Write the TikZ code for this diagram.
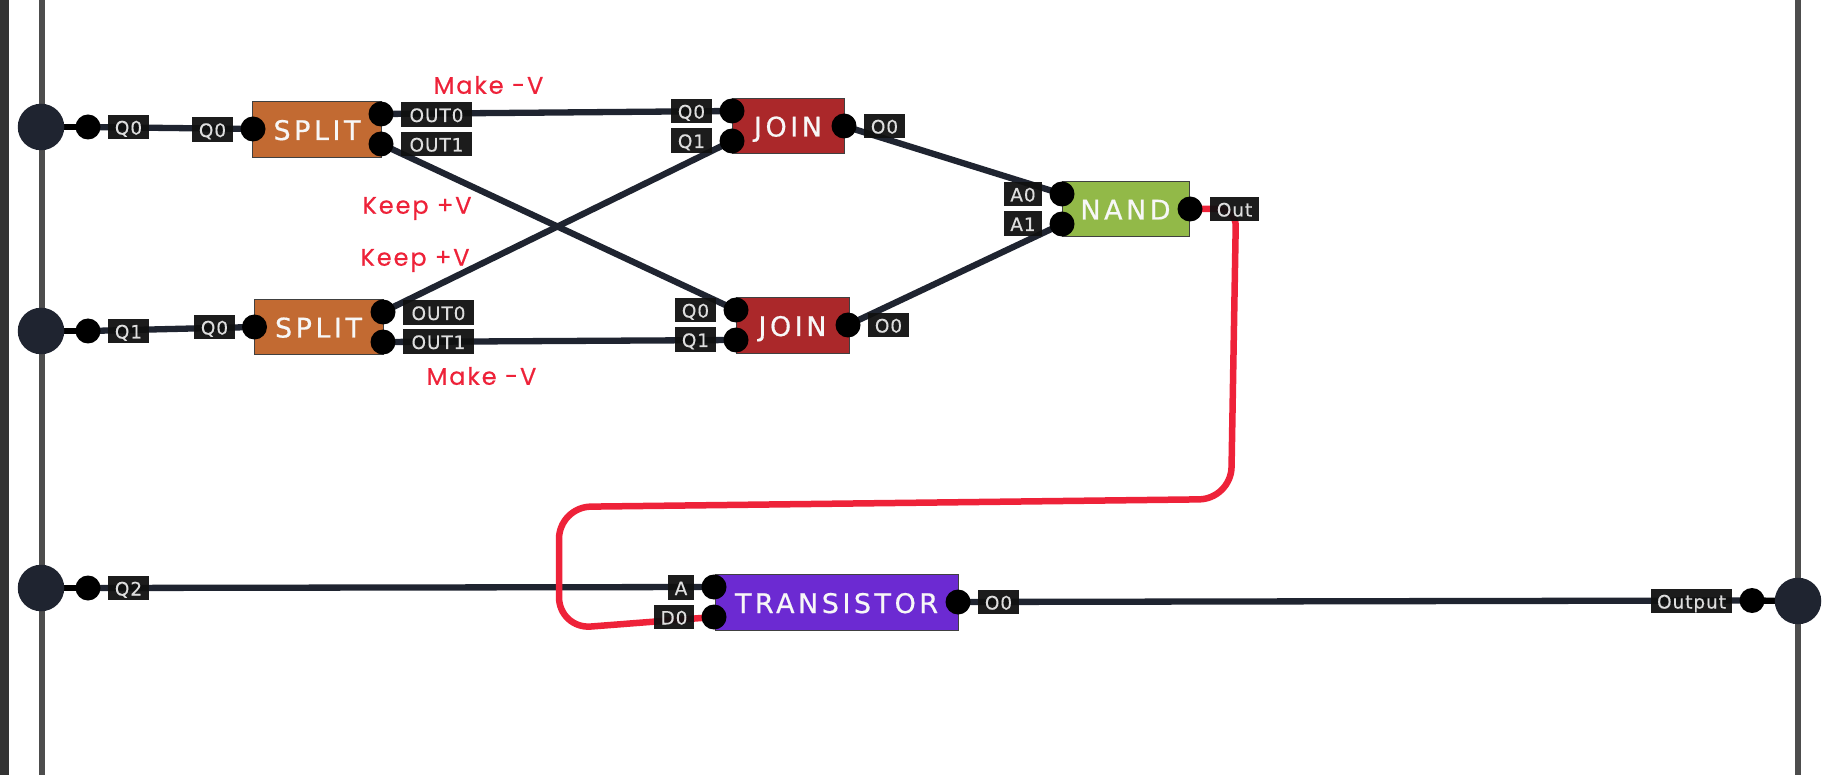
\documentclass[tikz,border=0pt]{standalone}
\usepackage{fontspec}
\setmainfont{DejaVu Sans}
\newfontfamily\plabel[LetterSpace=5,FakeBold=0.25]{DejaVu Sans}
\newfontfamily\pbox[LetterSpace=13,FakeBold=0.6]{DejaVu Sans}
\newfontfamily\pnote[LetterSpace=8,FakeBold=0.5]{Poppins}
\usetikzlibrary{backgrounds}
\definecolor{wirec}{HTML}{1F2430}
\definecolor{redc}{HTML}{EE2239}
\definecolor{railc}{HTML}{4D4D4D}
\definecolor{bandc}{HTML}{333333}
\definecolor{tagc}{HTML}{101010}
\definecolor{splitc}{HTML}{C26A32}
\definecolor{joinc}{HTML}{AB282A}
\definecolor{nandc}{HTML}{92B948}
\definecolor{transc}{HTML}{6C2AD2}
\tikzset{
  x=1pt,y=-1pt,
  wire/.style={draw=wirec,line width=6.3pt},
  stub/.style={draw=black,line width=6.3pt},
  hot/.style={draw=redc,line width=6.5pt},
  rail/.style={draw=railc,line width=5.5pt},
  term/.style={circle,fill=wirec,inner sep=0pt,minimum size=46.5pt},
  pin/.style={circle,fill=black,inner sep=0pt,minimum size=25pt},
  tag/.style={fill=tagc,fill opacity=.95,text opacity=1,text=white!87!black,inner sep=0pt,minimum height=24.5pt,text height=15pt,text depth=0pt,font=\plabel\fontsize{18.5}{19}\selectfont},
  chip/.style={draw=black!75,line width=.8pt,inner sep=0pt,text=white!97!black,text height=22pt,text depth=0pt,font=\pbox\fontsize{27}{28}\selectfont},
  note/.style={text=redc,inner sep=0pt,font=\pnote\fontsize{24}{26}\selectfont},
}
\newcommand{\chipnode}[7]{\node[chip,fill=#2,minimum width=#5pt,minimum height=#6pt] (#1) at (#3,#4) {#7};}
\begin{document}
\begin{tikzpicture}
\useasboundingbox (0,0) rectangle (1828,775);
\begin{pgfonlayer}{background}
\fill[white] (0,0) rectangle (1828,775);
\fill[bandc] (0,0) rectangle (9,775);
\draw[rail] (42,0) -- (42,775);
\draw[rail] (1798,0) -- (1798,775);
\end{pgfonlayer}

% chips
\chipnode{s1}{splitc}{317}{129}{129}{56}{SPLIT}
\chipnode{s2}{splitc}{318.5}{326.5}{129}{55}{SPLIT}
\chipnode{j1}{joinc}{788}{125.5}{112}{55}{JOIN}
\chipnode{j2}{joinc}{792.5}{325}{113}{56}{JOIN}
\chipnode{nd}{nandc}{1125.5}{208.5}{127}{55}{NAND}
\chipnode{tr}{transc}{836.5}{602}{243}{56}{TRANSISTOR}

% terminals
\node[term] (t0) at (41,127) {};
\node[term] (t1) at (41,331) {};
\node[term] (t2) at (41,588) {};
\node[term] (t3) at (1798,601) {};

% pins
\node[pin] (p0) at (88,127) {};
\node[pin] (p1) at (88,331) {};
\node[pin] (p2) at (88,588) {};
\node[pin] (p3) at (1752,600.5) {};
\node[pin] (s1i) at (253,129) {};
\node[pin] (s1a) at (381,114) {};
\node[pin] (s1b) at (381,144) {};
\node[pin] (s2i) at (254.5,327) {};
\node[pin] (s2a) at (383,312) {};
\node[pin] (s2b) at (383,342) {};
\node[pin] (j1a) at (732,111) {};
\node[pin] (j1b) at (732,141) {};
\node[pin] (j1o) at (844,126) {};
\node[pin] (j2a) at (736,310) {};
\node[pin] (j2b) at (736,340) {};
\node[pin] (j2o) at (848,325) {};
\node[pin] (nda) at (1062,194) {};
\node[pin] (ndb) at (1062,224) {};
\node[pin] (ndo) at (1190,209) {};
\node[pin] (tra) at (714,587) {};
\node[pin] (trb) at (714,617) {};
\node[pin] (tro) at (958,602) {};

% tags
\node[tag,minimum width=41pt] (l0) at (128.5,127) {Q0};
\node[tag,minimum width=41pt] (l1) at (128.5,331) {Q1};
\node[tag,minimum width=41pt] (l2) at (128.5,588) {Q2};
\node[tag,minimum width=41pt] (l3) at (212.5,129.5) {Q0};
\node[tag,minimum width=41pt] (l4) at (214.5,327) {Q0};
\node[tag,minimum width=71pt] (l5) at (436.5,114.5) {OUT0};
\node[tag,minimum width=71pt] (l6) at (436.5,144) {OUT1};
\node[tag,minimum width=71pt] (l7) at (438.5,312.5) {OUT0};
\node[tag,minimum width=71pt] (l8) at (438.5,341.5) {OUT1};
\node[tag,minimum width=41pt] (l9) at (691.5,111) {Q0};
\node[tag,minimum width=41pt] (l10) at (691.5,140.5) {Q1};
\node[tag,minimum width=41pt] (l11) at (884.5,126) {O0};
\node[tag,minimum width=41pt] (l12) at (695.5,310) {Q0};
\node[tag,minimum width=41pt] (l13) at (695.5,339.5) {Q1};
\node[tag,minimum width=41pt] (l14) at (888.5,325) {O0};
\node[tag,minimum width=38pt] (l15) at (1023,194) {A0};
\node[tag,minimum width=38pt] (l16) at (1023,223.5) {A1};
\node[tag,minimum width=49pt] (l17) at (1234.5,209) {Out};
\node[tag,minimum width=26pt] (l18) at (681,587.5) {A};
\node[tag,minimum width=40pt] (l19) at (674,617) {D0};
\node[tag,minimum width=41pt] (l20) at (998.5,602) {O0};
\node[tag,minimum width=81pt] (l21) at (1691.5,601) {Output};

% notes
\node[note] (n1) at (488.5,85) {Make -V};
\node[note] (n2) at (417,208.5) {Keep +V};
\node[note] (n3) at (415,260.5) {Keep +V};
\node[note] (n4) at (481.5,376) {Make -V};

% red route corners
\coordinate (r1) at (1236,209);
\coordinate (r2) at (1231,499);
\coordinate (r3) at (559,507);
\coordinate (r4) at (559,629);

\begin{pgfonlayer}{background}
\draw[stub] (t0.center) -- (p0.center);
\draw[stub] (t1.center) -- (p1.center);
\draw[stub] (t2.center) -- (p2.center);
\draw[stub] (t3.center) -- (p3.center);
\draw[wire] (p0.center) -- (s1i.center);
\draw[wire] (p1.center) -- (s2i.center);
\draw[wire] (p2.center) -- (tra.center);
\draw[wire] (s1a.center) -- (j1a.center);
\draw[wire] (s1b.center) -- (j2a.center);
\draw[wire] (s2a.center) -- (j1b.center);
\draw[wire] (s2b.center) -- (j2b.center);
\draw[wire] (j1o.center) -- (nda.center);
\draw[wire] (j2o.center) -- (ndb.center);
\draw[wire] (tro.center) -- (p3.center);
\draw[hot,rounded corners=17pt] (ndo.center) -- (r1)
  [rounded corners=32pt] -- (r2) -- (r3) -- (r4) -- (trb.center);
\end{pgfonlayer}
\end{tikzpicture}
\end{document}
